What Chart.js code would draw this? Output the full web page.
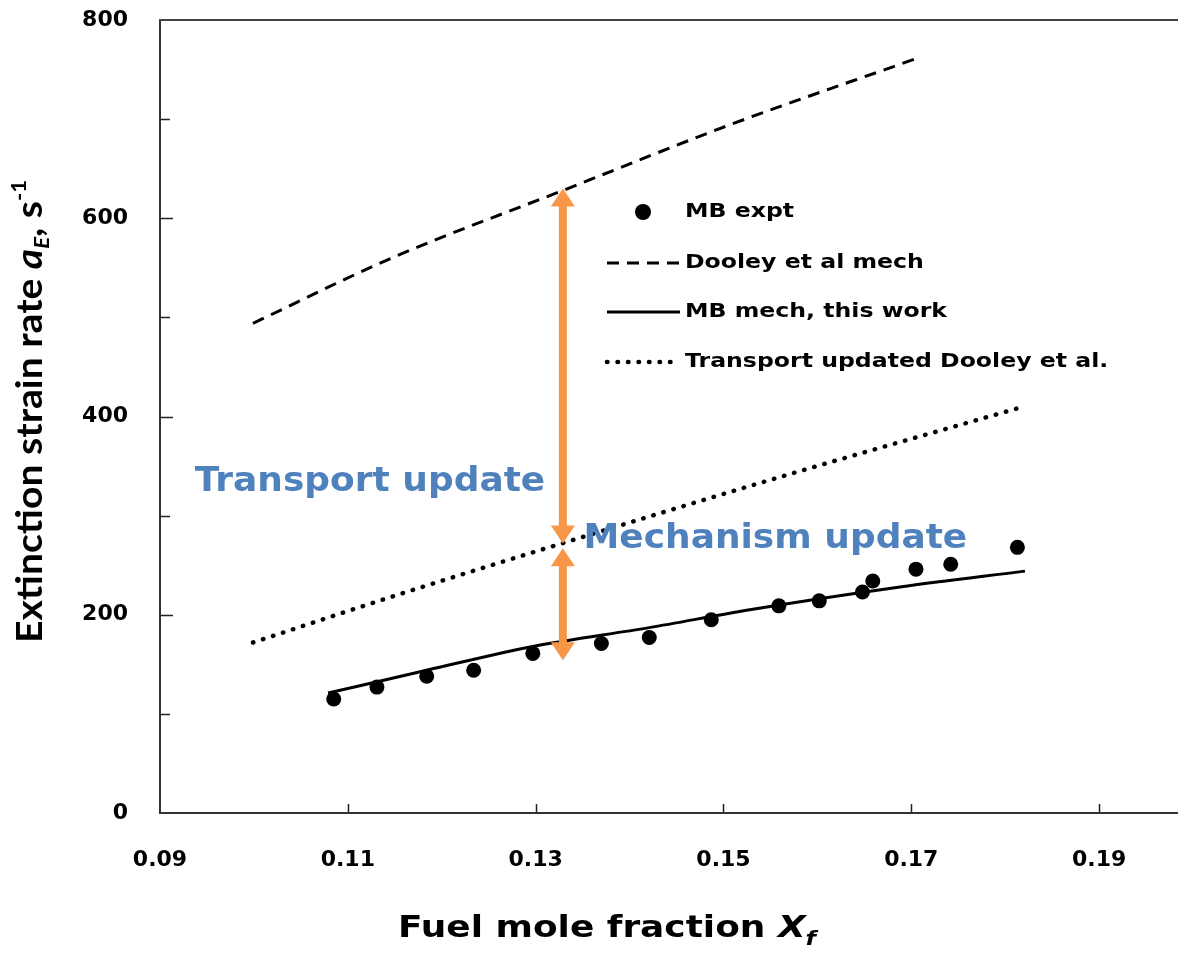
<!DOCTYPE html>
<html>
<head>
<meta charset="utf-8">
<script src="https://cdn.jsdelivr.net/npm/chart.js@4.4.1/dist/chart.umd.min.js"></script>
<style>
  html, body { margin: 0; padding: 0; background: #fff; }
  #wrap { width: 1178px; height: 956px; }
</style>
</head>
<body>
<div id="wrap"><canvas id="chart" width="1178" height="956"></canvas></div>
<script>
// MB expt (filled dots)
var exptX = [0.1085, 0.1131, 0.1184, 0.1234, 0.1297, 0.1370, 0.1421, 0.1487, 0.1559, 0.1602, 0.1648, 0.1659, 0.1705, 0.1742, 0.1813];
var exptY = [115, 127, 138, 144, 161, 171, 177, 195, 209, 214, 223, 234, 246, 251, 268];

// Dooley et al mech (dashed)
var dooleyX = [0.0999, 0.1147, 0.1329, 0.1506, 0.1705];
var dooleyY = [494, 560, 628, 694, 761];

// MB mech, this work (solid)
var mbMechX = [0.1079, 0.1184, 0.1297, 0.1421, 0.1528, 0.1688, 0.1821];
var mbMechY = [121, 144, 168, 187, 205, 228, 244];

// Transport updated Dooley et al. (dotted)
var transX = [0.0999, 0.1156, 0.1328, 0.1571, 0.1816];
var transY = [172, 221, 272, 342, 409];

// axis ticks
var xTicks = [0.09, 0.11, 0.13, 0.15, 0.17, 0.19];
var yTicks = [0, 100, 200, 300, 400, 500, 600, 700, 800];
var yLabelStep = 200;

// orange arrows (x, from, to) and the two notes
var arrowX = 0.1329;
var arrowFrom = [630, 267];
var arrowTo = [272, 154];
var noteText = ['Transport update', 'Mechanism update'];
var noteX = [0.0937, 0.1351];
var noteY = [333, 276];

var BOLD = 'DejaVu Sans';
var ORANGE = '#F79646';
var NOTE_BLUE = '#4F81BD';

function toPts(xs, ys) {
  return xs.map(function(x, i) { return { x: x, y: ys[i] }; });
}

function drawYTitle(ctx) {
  var parts = [
    { t: 'Extinction strain rate ', f: 'bold 30px Lato', dy: 0 },
    { t: 'a', f: 'italic bold 30px Lato', dy: 0 },
    { t: 'E', f: 'italic bold 17px Lato', dy: 6 },
    { t: ', s', f: 'bold 30px Lato', dy: 0 },
    { t: '-1', f: 'bold 17px Lato', dy: -13 }
  ];
  var w = 0;
  parts.forEach(function(p) { ctx.font = p.f; w += ctx.measureText(p.t).width; });
  ctx.save();
  ctx.translate(42, 643);
  ctx.rotate(-Math.PI / 2);
  ctx.scale(463 / w, 1.22);
  ctx.fillStyle = '#000';
  ctx.textBaseline = 'alphabetic';
  ctx.textAlign = 'left';
  var cx = 0;
  parts.forEach(function(p) {
    ctx.font = p.f;
    ctx.fillText(p.t, cx, p.dy);
    cx += ctx.measureText(p.t).width;
  });
  ctx.restore();
}

function drawXTitle(ctx) {
  var parts = [
    { t: 'Fuel mole fraction ', f: 'bold 30px ' + BOLD, dy: 0 },
    { t: 'X', f: 'italic bold 30px ' + BOLD, dy: 0 },
    { t: 'f', f: 'italic bold 20px ' + BOLD, dy: 8 }
  ];
  var w = 0;
  parts.forEach(function(p) { ctx.font = p.f; w += ctx.measureText(p.t).width; });
  ctx.save();
  ctx.translate(398, 937);
  ctx.scale(418 / w, 1);
  ctx.fillStyle = '#000';
  ctx.textBaseline = 'alphabetic';
  var cx = 0;
  parts.forEach(function(p) {
    ctx.font = p.f;
    ctx.fillText(p.t, cx, p.dy);
    cx += ctx.measureText(p.t).width;
  });
  ctx.restore();
}

// text stretched sideways a little, like the source figure
function wideText(ctx, text, x, y, sx) {
  ctx.save();
  ctx.translate(x, y);
  ctx.scale(sx, 1);
  ctx.fillText(text, 0, 0);
  ctx.restore();
}

function drawArrow(ctx, x, yTop, yBot) {
  var hl = 18, hw = 12;
  ctx.strokeStyle = ORANGE;
  ctx.fillStyle = ORANGE;
  ctx.lineWidth = 8;
  ctx.setLineDash([]);
  ctx.beginPath();
  ctx.moveTo(x, yTop + hl - 2);
  ctx.lineTo(x, yBot - hl + 2);
  ctx.stroke();
  ctx.beginPath();
  ctx.moveTo(x, yTop);
  ctx.lineTo(x - hw, yTop + hl);
  ctx.lineTo(x + hw, yTop + hl);
  ctx.closePath();
  ctx.fill();
  ctx.beginPath();
  ctx.moveTo(x, yBot);
  ctx.lineTo(x - hw, yBot - hl);
  ctx.lineTo(x + hw, yBot - hl);
  ctx.closePath();
  ctx.fill();
}

var decor = {
  id: 'decor',
  afterDraw: function(chart) {
    var ctx = chart.ctx, area = chart.chartArea;
    var xs = chart.scales.x, ys = chart.scales.y;
    ctx.save();

    // top frame line
    ctx.strokeStyle = '#444';
    ctx.lineWidth = 2;
    ctx.beginPath();
    ctx.moveTo(area.left - 1, area.top);
    ctx.lineTo(area.right, area.top);
    ctx.stroke();

    // inside tick marks
    ctx.strokeStyle = '#222';
    ctx.lineWidth = 1.5;
    yTicks.forEach(function(v) {
      if (v === 0 || v === 800) return;
      var py = Math.round(ys.getPixelForValue(v)) + 0.5;
      ctx.beginPath();
      ctx.moveTo(area.left, py);
      ctx.lineTo(area.left + (v % yLabelStep === 0 ? 13 : 10), py);
      ctx.stroke();
    });
    xTicks.forEach(function(v) {
      if (v === 0.09) return;
      var px = Math.round(xs.getPixelForValue(v)) + 0.5;
      ctx.beginPath();
      ctx.moveTo(px, area.bottom);
      ctx.lineTo(px, area.bottom - 9);
      ctx.stroke();
    });

    // arrows
    var ax = xs.getPixelForValue(arrowX);
    for (var i = 0; i < arrowFrom.length; i++) {
      drawArrow(ctx, ax, ys.getPixelForValue(arrowFrom[i]), ys.getPixelForValue(arrowTo[i]));
    }

    // notes
    ctx.fillStyle = NOTE_BLUE;
    ctx.font = 'bold 33px ' + BOLD;
    ctx.textBaseline = 'middle';
    ctx.textAlign = 'left';
    for (var j = 0; j < noteText.length; j++) {
      wideText(ctx, noteText[j], xs.getPixelForValue(noteX[j]), ys.getPixelForValue(noteY[j]), 1.09);
    }

    // legend
    var ds = chart.data.datasets;
    var rowY = [212, 263, 312, 362];
    ctx.font = 'bold 20px ' + BOLD;
    ctx.textBaseline = 'middle';
    for (var k = 0; k < ds.length; k++) {
      var y = rowY[k];
      if (k === 0) {
        ctx.beginPath();
        ctx.arc(643, y, 8, 0, Math.PI * 2);
        ctx.fillStyle = '#000';
        ctx.fill();
      } else {
        ctx.strokeStyle = '#000';
        ctx.lineWidth = ds[k].borderWidth;
        ctx.lineCap = ds[k].borderCapStyle || 'butt';
        ctx.setLineDash(ds[k].borderDash || []);
        ctx.beginPath();
        ctx.moveTo(607, y);
        ctx.lineTo(680, y);
        ctx.stroke();
        ctx.setLineDash([]);
        ctx.lineCap = 'butt';
      }
      ctx.fillStyle = '#000';
      wideText(ctx, ds[k].label, 685, y, 1.18);
    }

    drawYTitle(ctx);
    drawXTitle(ctx);
    ctx.restore();
  }
};

var ctx = document.getElementById('chart').getContext('2d');

var myChart = new Chart(ctx, {
  type: 'scatter',
  data: {
    datasets: [
      {
        label: 'MB expt',
        data: toPts(exptX, exptY),
        showLine: false,
        pointRadius: 7.5,
        pointBackgroundColor: '#000',
        pointBorderWidth: 0
      },
      {
        label: 'Dooley et al mech',
        data: toPts(dooleyX, dooleyY),
        showLine: true,
        borderColor: '#000',
        borderWidth: 3,
        borderDash: [12, 8],
        pointRadius: 0,
        cubicInterpolationMode: 'monotone'
      },
      {
        label: 'MB mech, this work',
        data: toPts(mbMechX, mbMechY),
        showLine: true,
        borderColor: '#000',
        borderWidth: 3,
        pointRadius: 0,
        cubicInterpolationMode: 'monotone'
      },
      {
        label: 'Transport updated Dooley et al.',
        data: toPts(transX, transY),
        showLine: true,
        borderColor: '#000',
        borderWidth: 4.5,
        borderDash: [0.5, 10],
        borderCapStyle: 'round',
        pointRadius: 0,
        cubicInterpolationMode: 'monotone'
      }
    ]
  },
  options: {
    responsive: false,
    animation: false,
    layout: { autoPadding: false, padding: { top: 20, left: 0, right: 0, bottom: 0 } },
    plugins: {
      legend: { display: false },
      tooltip: { enabled: false }
    },
    scales: {
      x: {
        type: 'linear',
        min: 0.09,
        max: 0.1984,
        afterBuildTicks: function(scale) {
          scale.ticks = xTicks.map(function(v) { return { value: v }; });
        },
        afterFit: function(scale) {
          scale.height = 143;
          scale.paddingLeft = 0;
          scale.paddingRight = 0;
        },
        ticks: {
          callback: function(v) { return v.toFixed(2); },
          color: '#000',
          font: { family: BOLD, size: 22, weight: 'bold' },
          padding: 34,
          maxRotation: 0,
          autoSkip: false
        },
        grid: { drawOnChartArea: false, drawTicks: false },
        border: { color: '#333', width: 2 }
      },
      y: {
        min: 0,
        max: 800,
        afterBuildTicks: function(scale) {
          scale.ticks = yTicks.map(function(v) { return { value: v }; });
        },
        afterFit: function(scale) {
          scale.width = 160;
          scale.paddingTop = 0;
          scale.paddingBottom = 0;
        },
        ticks: {
          callback: function(v) { return v % yLabelStep === 0 ? v : ''; },
          color: '#000',
          font: { family: BOLD, size: 22, weight: 'bold' },
          padding: 32,
          autoSkip: false
        },
        grid: { drawOnChartArea: false, drawTicks: false },
        border: { color: '#333', width: 2 }
      }
    }
  },
  plugins: [decor]
});
</script>
</body>
</html>
